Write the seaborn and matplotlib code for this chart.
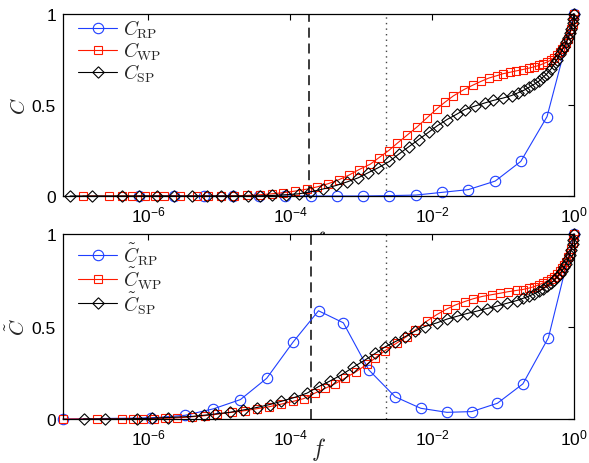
import numpy as np
import matplotlib
matplotlib.use("Agg")
import matplotlib.pyplot as plt
import seaborn as sns

# ---------------- data (log10 f exponents and fractions) ----------------
logf_rp_top = [-6.13, -5.63, -5.22, -4.81, -4.44, -4.07, -3.70, -3.34, -2.97, -2.61,
               -2.23, -1.86, -1.49, -1.11, -0.75, -0.38, 0.0]
c_rp_top = [0, 0, 0, 0, 0, 0, 0, 0, 0, 0.002, 0.005, 0.02, 0.035, 0.082, 0.19, 0.436, 1.0]

logf_wp_top = [-6.92, -6.55, -6.37, -6.23, -6.04, -5.90, -5.78, -5.55, -5.31, -5.15,
               -4.97, -4.79, -4.61, -4.42, -4.26, -4.10, -3.93, -3.76, -3.62, -3.46,
               -3.31, -3.17, -3.03, -2.87, -2.75, -2.61, -2.49, -2.35, -2.21, -2.07,
               -1.93, -1.82, -1.70, -1.55, -1.42, -1.31, -1.20, -1.08, -1.00, -0.90,
               -0.82, -0.72, -0.63, -0.56, -0.49, -0.44, -0.38, -0.32, -0.28, -0.24,
               -0.20, -0.17, -0.14, -0.11, -0.08, -0.06, -0.04, -0.02, -0.01, 0.0]
c_wp_top = [0, 0, 0, 0, 0, 0, 0, 0, 0, 0,
            0, 0.001, 0.003, 0.007, 0.012, 0.018, 0.027, 0.038, 0.05, 0.068,
            0.09, 0.115, 0.145, 0.175, 0.21, 0.25, 0.29, 0.335, 0.38, 0.43,
            0.48, 0.515, 0.55, 0.585, 0.61, 0.63, 0.648, 0.662, 0.672, 0.68,
            0.687, 0.695, 0.703, 0.71, 0.718, 0.726, 0.736, 0.748, 0.76, 0.775,
            0.79, 0.805, 0.82, 0.84, 0.865, 0.89, 0.915, 0.945, 0.97, 1.0]

logf_sp_top = [-7.10, -6.79, -6.37, -6.13, -5.88, -5.63, -5.38, -5.17, -4.98, -4.80,
               -4.59, -4.43, -4.25, -4.06, -3.88, -3.72, -3.54, -3.35, -3.20, -3.04,
               -2.90, -2.76, -2.60, -2.47, -2.33, -2.19, -2.05, -1.93, -1.79, -1.65,
               -1.54, -1.39, -1.25, -1.14, -1.00, -0.88, -0.79, -0.70, -0.63, -0.56,
               -0.49, -0.44, -0.38, -0.32, -0.28, -0.24, -0.20, -0.17, -0.14, -0.11,
               -0.08, -0.06, -0.04, -0.02, -0.01, 0.0]
c_sp_top = [0, 0, 0, 0, 0, 0, 0, 0, 0, 0,
            0, 0.001, 0.003, 0.007, 0.012, 0.022, 0.038, 0.058, 0.077, 0.10,
            0.128, 0.155, 0.19, 0.23, 0.27, 0.31, 0.35, 0.385, 0.42, 0.45,
            0.475, 0.495, 0.512, 0.525, 0.538, 0.552, 0.567, 0.582, 0.598, 0.614,
            0.632, 0.652, 0.672, 0.70, 0.725, 0.75, 0.78, 0.80, 0.82, 0.845,
            0.87, 0.895, 0.92, 0.95, 0.975, 1.0]

logf_rp_bot = [-7.20, -5.96, -5.48, -5.08, -4.70, -4.33, -3.96, -3.60, -3.25, -2.89,
               -2.52, -2.16, -1.79, -1.44, -1.08, -0.72, -0.36, 0.0]
c_rp_bot = [0, 0.006, 0.02, 0.055, 0.105, 0.22, 0.415, 0.585, 0.52, 0.265,
            0.12, 0.058, 0.036, 0.04, 0.085, 0.19, 0.44, 1.0]

logf_wp_bot = [-7.20, -6.72, -6.37, -6.21, -6.07, -5.92, -5.76, -5.60, -5.38, -5.20,
               -5.03, -4.82, -4.64, -4.46, -4.30, -4.13, -3.96, -3.81, -3.65, -3.51,
               -3.37, -3.23, -3.07, -2.92, -2.80, -2.66, -2.50, -2.36, -2.24, -2.07,
               -1.93, -1.79, -1.68, -1.54, -1.42, -1.30, -1.16, -1.04, -0.93, -0.81,
               -0.72, -0.63, -0.56, -0.49, -0.44, -0.38, -0.32, -0.28, -0.24, -0.20,
               -0.17, -0.14, -0.11, -0.08, -0.06, -0.04, -0.02, -0.01, 0.0]
c_wp_bot = [0, 0, 0, 0, 0, 0.002, 0.004, 0.006, 0.012, 0.018,
            0.026, 0.036, 0.045, 0.056, 0.066, 0.08, 0.095, 0.11, 0.14, 0.165,
            0.19, 0.22, 0.256, 0.295, 0.33, 0.37, 0.41, 0.445, 0.48, 0.53,
            0.565, 0.595, 0.615, 0.635, 0.65, 0.662, 0.672, 0.68, 0.688, 0.695,
            0.70, 0.708, 0.716, 0.726, 0.735, 0.745, 0.758, 0.77, 0.785, 0.80,
            0.815, 0.83, 0.85, 0.875, 0.895, 0.92, 0.95, 0.975, 1.0]

logf_sp_bot = [-6.91, -6.61, -6.16, -5.95, -5.72, -5.38, -5.22, -5.06, -4.85, -4.67,
               -4.47, -4.29, -4.13, -3.95, -3.76, -3.60, -3.44, -3.27, -3.11, -2.94,
               -2.80, -2.66, -2.52, -2.38, -2.24, -2.10, -1.93, -1.79, -1.65, -1.51,
               -1.37, -1.23, -1.09, -0.95, -0.81, -0.72, -0.63, -0.56, -0.49, -0.44,
               -0.38, -0.32, -0.28, -0.24, -0.20, -0.17, -0.14, -0.11, -0.08, -0.06,
               -0.04, -0.02, -0.01, 0.0]
c_sp_bot = [0, 0, 0.002, 0.004, 0.008, 0.014, 0.02, 0.027, 0.036, 0.048,
            0.062, 0.078, 0.095, 0.115, 0.14, 0.175, 0.205, 0.24, 0.28, 0.32,
            0.355, 0.39, 0.418, 0.445, 0.475, 0.50, 0.52, 0.54, 0.555, 0.57,
            0.583, 0.597, 0.61, 0.625, 0.64, 0.652, 0.665, 0.677, 0.69, 0.705,
            0.72, 0.735, 0.75, 0.768, 0.785, 0.80, 0.82, 0.84, 0.865, 0.885,
            0.915, 0.945, 0.97, 1.0]

vline_dashed_top = 10 ** -3.74
vline_dashed_bot = 10 ** -3.70
vline_dotted = 10 ** -2.65
x_min, x_max = 10 ** -7.2, 1.0
x_ticks = [1e-6, 1e-4, 1e-2, 1e0]
y_ticks = [0, 0.5, 1]
y_tick_labels = ["0", "0.5", "1"]

labels_top = [r"$C_{\rm RP}$", r"$C_{\rm WP}$", r"$C_{\rm SP}$"]
labels_bot = [r"$\tilde{C}_{\rm RP}$", r"$\tilde{C}_{\rm WP}$", r"$\tilde{C}_{\rm SP}$"]

# ---------------- style ----------------
sns.set_theme(style="white")
plt.rcParams["font.family"] = ["Liberation Sans", "DejaVu Sans"]
plt.rcParams["mathtext.fontset"] = "cm"
plt.rcParams["xtick.direction"] = "in"
plt.rcParams["ytick.direction"] = "in"

BLUE = "#1f3fff"
RED = "#ff1a00"
BLACK = "#000000"

fig = plt.figure(figsize=(5.89, 4.64), dpi=100)
W, H = 589.0, 464.0
ax_top = fig.add_axes([63 / W, (H - 197) / H, 511 / W, 182 / H])
ax_bot = fig.add_axes([63 / W, (H - 420) / H, 511 / W, 185 / H])


def draw(ax, series, labels, dashed_x, ylabel, lspacing, anchor_y):
    styles = [("o", BLUE, 7.5), ("s", RED, 6.3), ("D", BLACK, 6.3)]
    for (logf, c), lab, (mk, col, ms) in zip(series, labels, styles):
        f = 10.0 ** np.asarray(logf)
        sns.lineplot(x=f, y=np.asarray(c), ax=ax, color=col, lw=0.8,
                     marker=mk, ms=ms,
                     mfc="none", mec=col, mew=0.8, label=lab,
                     errorbar=None, sort=False, legend=False)
    for line in ax.get_lines():
        if line.get_marker() == "D":
            line.set_marker((4, 0, 0))
            line.set_markersize(8.2)
    ax.axvline(dashed_x, color="#1a1a1a", ls=(0, (6, 3.5)), lw=1.2, zorder=0)
    ax.axvline(vline_dotted, color="#444444", ls=(0, (1, 3)), lw=1.0, zorder=0)
    ax.set_xscale("log")
    ax.set_xlim(x_min, x_max)
    ax.set_ylim(0, 1)
    ax.set_xticks(x_ticks)
    ax.xaxis.set_minor_locator(matplotlib.ticker.NullLocator())
    ax.set_yticks(y_ticks)
    ax.set_yticklabels(y_tick_labels)
    ax.tick_params(axis="both", which="major", direction="in", length=4.5,
                   width=0.8, top=True, right=True, labelsize=12.5, pad=5,
                   colors="black")
    ax.tick_params(axis="x", pad=6)
    for sp in ax.spines.values():
        sp.set_color("black")
        sp.set_linewidth(0.9)
    ax.set_ylabel(ylabel, fontsize=15, labelpad=2)
    ax.set_facecolor("white")
    leg = ax.legend(loc="upper left", frameon=False, fontsize=14,
                    handlelength=2.0, handletextpad=0.3, labelspacing=lspacing,
                    borderaxespad=0.0, bbox_to_anchor=(0.015, anchor_y))
    return leg


draw(ax_top, [(logf_rp_top, c_rp_top), (logf_wp_top, c_wp_top), (logf_sp_top, c_sp_top)],
     labels_top, vline_dashed_top, r"$C$", -0.03, 1.02)
draw(ax_bot, [(logf_rp_bot, c_rp_bot), (logf_wp_bot, c_wp_bot), (logf_sp_bot, c_sp_bot)],
     labels_bot, vline_dashed_bot, r"$\tilde{C}$", -0.12, 1.01)

ax_top.set_xlabel(r"$f$", fontsize=17, labelpad=3)
ax_bot.set_xlabel(r"$f$", fontsize=17, labelpad=-9)
ax_bot.set_zorder(2)
ax_top.set_zorder(1)
for ax in (ax_top, ax_bot):
    for line in ax.get_lines():
        line.set_clip_on(False)

fig.savefig("out.png", dpi=100, facecolor="white")
